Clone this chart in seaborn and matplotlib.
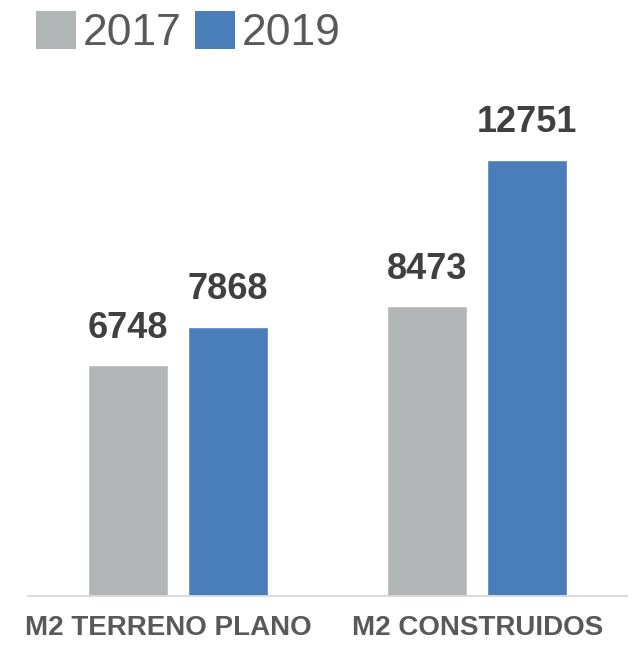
import pandas as pd
import matplotlib
matplotlib.use("Agg")
import matplotlib.pyplot as plt
import matplotlib.transforms as mtransforms
from matplotlib.patches import Patch
import seaborn as sns

# datos
categorias = ["M2 TERRENO PLANO", "M2 CONSTRUIDOS"]
anios = ["2017", "2019"]
valores_2017 = [6748, 8473]
valores_2019 = [7868, 12751]

colores = {"2017": "#B3B6B7", "2019": "#4A7EBB"}

df = pd.DataFrame({
    "categoria": categorias * 2,
    "anio": [anios[0]] * len(categorias) + [anios[1]] * len(categorias),
    "valor": valores_2017 + valores_2019,
})

sns.set_theme(style="white")
plt.rcParams["font.family"] = ["Liberation Sans", "DejaVu Sans"]

fig = plt.figure(figsize=(6.41, 6.47), dpi=100)
ax = fig.add_axes([28 / 641, 51 / 647, 599 / 641, 513 / 647])

sns.barplot(data=df, x="categoria", y="valor", hue="anio", order=categorias,
            hue_order=anios, palette=colores, width=2 / 3, gap=0.2,
            saturation=1, ax=ax)

for cont in ax.containers:
    ax.bar_label(cont, fmt="%d", padding=14, fontsize=26, fontweight="bold",
                 color="#404040")

ax.set_xlim(-0.5, 1.5)
ax.set_ylim(0, 15000)
ax.set_xlabel("")
ax.set_ylabel("")
ax.set_yticks([])
ax.tick_params(axis="x", length=0, pad=14, labelsize=20, labelcolor="#595959")
for lbl in ax.get_xticklabels():
    lbl.set_fontweight("bold")
# la primera etiqueta esta algo corrida a la izquierda
off = mtransforms.ScaledTranslation(-9 / 100, 0, fig.dpi_scale_trans)
lbl0 = ax.get_xticklabels()[0]
lbl0.set_transform(lbl0.get_transform() + off)

sns.despine(ax=ax, left=True)
ax.spines["bottom"].set_color("#D9D9D9")
ax.spines["bottom"].set_linewidth(1.4)

if ax.get_legend() is not None:
    ax.get_legend().remove()

handles = [Patch(facecolor=colores[a], edgecolor="none") for a in anios]
fig.legend(handles, anios, loc="upper left", bbox_to_anchor=(36 / 641, 1 - 11 / 647),
           ncol=2, frameon=False, fontsize=32, labelcolor="#595959",
           handlelength=0.9, handleheight=0.95, handletextpad=0.16,
           columnspacing=0.29, borderpad=0, borderaxespad=0)

fig.savefig("out.png", dpi=100)
